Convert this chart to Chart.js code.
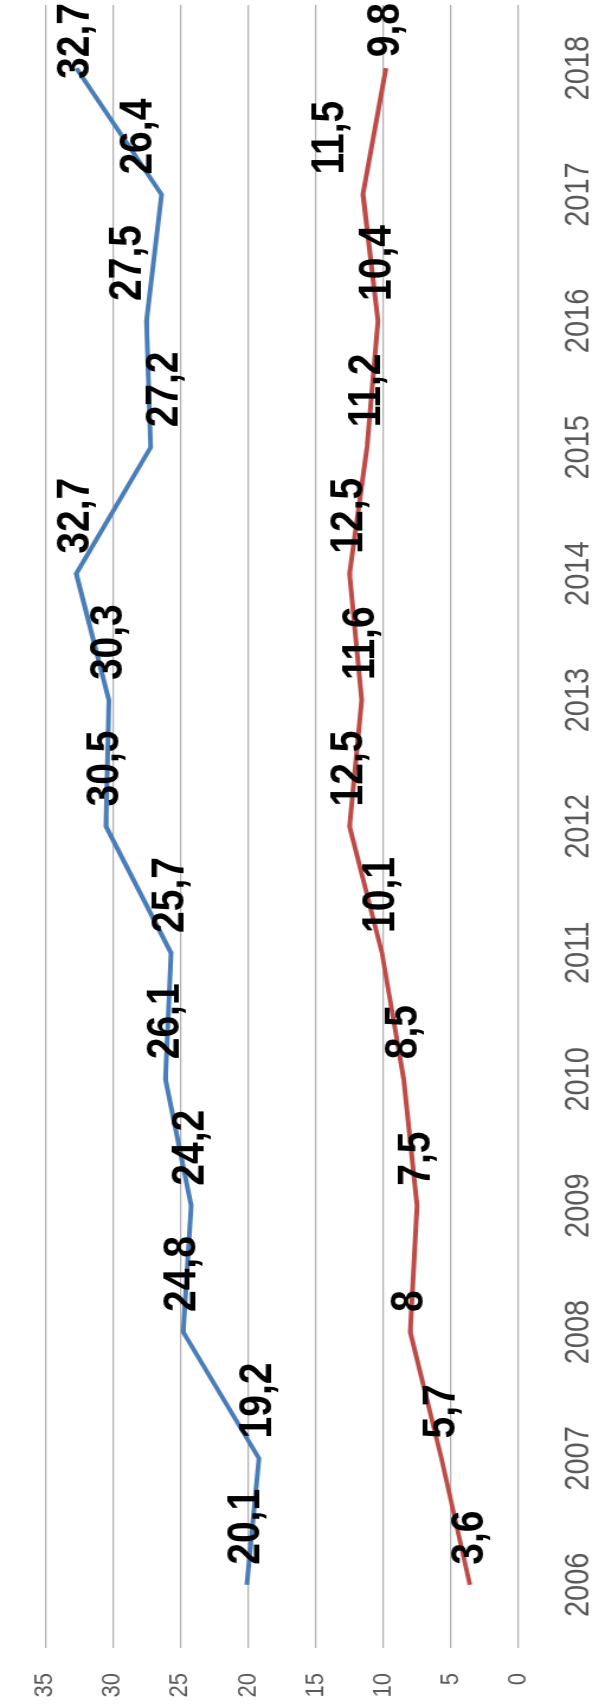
<!DOCTYPE html>
<html>
<head>
<meta charset="utf-8">
<script src="https://cdn.jsdelivr.net/npm/chart.js@4"></script>
<style>
  html, body { margin: 0; padding: 0; background: #fff; overflow: hidden; }
  /* the chart is drawn lying down, then turned a quarter left and stretched a bit */
  #wrap {
    position: absolute; left: 0; top: 0;
    width: 1708px; height: 500px;
    transform-origin: 0 0;
    transform: translateY(1708px) rotate(-90deg) scaleY(1.184);
  }
</style>
</head>
<body>
<div id="wrap"><canvas id="myChart" width="1708" height="500"></canvas></div>
<script>
const years = ['2006', '2007', '2008', '2009', '2010', '2011', '2012', '2013', '2014', '2015', '2016', '2017', '2018'];
const blueValues = [20.1, 19.2, 24.8, 24.2, 26.1, 25.7, 30.5, 30.3, 32.7, 27.2, 27.5, 26.4, 32.7];
const redValues = [3.6, 5.7, 8, 7.5, 8.5, 10.1, 12.5, 11.6, 12.5, 11.2, 10.4, 11.5, 9.8];
const yMin = 0, yMax = 35, yStep = 5;

// manual nudges of a few data labels (px, up is negative)
const labelShift = [
  [0, 0, 0, 0, 0, 0, 0, 0, 0, 12, -16, -19, 0],
  [0, 0, 0, 0, 0, 0, 0, 0, 0, 0, 0, -27, 0]
];

const FONT = '"Liberation Sans", Arial, sans-serif';

const pointLabels = {
  id: 'pointLabels',
  afterDatasetsDraw(chart) {
    const ctx = chart.ctx;
    ctx.save();
    ctx.font = 'bold 39px ' + FONT;
    ctx.fillStyle = '#000';
    ctx.textBaseline = 'middle';
    chart.data.datasets.forEach((ds, di) => {
      chart.getDatasetMeta(di).data.forEach((pt, i) => {
        const text = String(ds.data[i]).replace('.', ',');
        const w = ctx.measureText(text).width;
        let x = pt.x + 20;
        if (x + w > chart.width - 3) x = chart.width - 3 - w;
        ctx.fillText(text, x, pt.y + labelShift[di][i]);
      });
    });
    ctx.restore();
  }
};

const ctx = document.getElementById('myChart');

Chart.defaults.color = '#595959';
Chart.defaults.font.family = FONT;

new Chart(ctx, {
  type: 'line',
  data: {
    labels: years,
    datasets: [{
      data: blueValues,
      borderColor: '#4a7ebb',
      borderWidth: 4,
      pointRadius: 0,
      tension: 0,
    }, {
      data: redValues,
      borderColor: '#be4b48',
      borderWidth: 4,
      pointRadius: 0,
      tension: 0,
    }],
  },
  options: {
    responsive: false,
    animation: false,
    layout: { padding: { top: 20, right: 5, left: 0, bottom: 0 } },
    scales: {
      x: {
        offset: true,
        grid: { display: false },
        border: { display: false },
        ticks: { font: { size: 29 }, padding: 26, maxRotation: 0, autoSkip: false },
        afterFit(scale) { scale.height = 62; }
      },
      y: {
        min: yMin,
        max: yMax,
        grid: { color: '#b0b0b0', lineWidth: 1.3, drawTicks: false },
        border: { display: false },
        ticks: { stepSize: yStep, font: { size: 22 }, padding: 25 },
        afterFit(scale) { scale.width = 60; }
      },
    },
    plugins: {
      tooltip: { enabled: false },
      legend: false,
    },
  },
  plugins: [pointLabels]
});
</script>
</body>
</html>
